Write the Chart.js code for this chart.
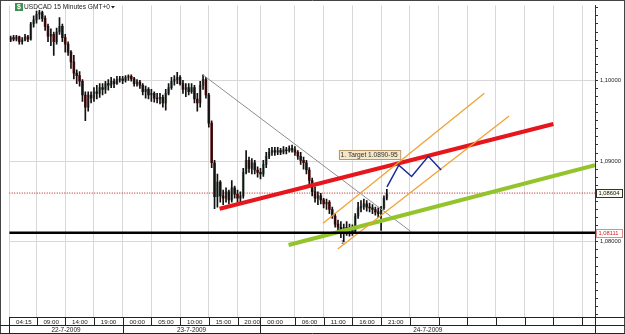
<!DOCTYPE html>
<html>
<head>
<meta charset="utf-8">
<script src="https://cdn.jsdelivr.net/npm/chart.js@4"></script>
<style>
  html, body { margin: 0; padding: 0; background: #fff; }
  #wrap { width: 625px; height: 334px; }
</style>
</head>
<body>
<div id="wrap"><canvas id="graficoUSDCAD" width="625" height="334"></canvas></div>
<script>
// USDCAD 15 Minutes GMT+0 - velas de 30 min
const START_HOUR = 4.5;   // 22-7-2009 04:30
const STEP_HOURS = 0.5;

const opens = [
  1.1050, 1.1053, 1.1051, 1.1054, 1.1048, 1.1050, 1.1054, 1.1051, 1.1070, 1.1075,
  1.1082, 1.1084, 1.1077, 1.1067, 1.1055, 1.1057, 1.1048, 1.1060, 1.1067, 1.1053,
  1.1045, 1.1035, 1.1023, 1.1009, 1.1006, 1.0999, 1.0982, 1.0967, 1.0982, 1.0978,
  1.0986, 1.0984, 1.0991, 1.0989, 1.0996, 1.0994, 1.0999, 1.0996, 1.1001, 1.1002,
  1.1000, 1.1004, 1.1005, 1.1002, 1.0996, 1.0998, 1.0994, 1.0986, 1.0989, 1.0982,
  1.0984, 1.0978, 1.0977, 1.0979, 1.0972, 1.0984, 1.0991, 1.0999, 1.1001, 1.1004,
  1.0996, 1.0989, 1.0991, 1.0986, 1.0991, 1.0977, 1.0972, 1.0994, 1.1001, 1.0982,
  1.0947, 1.0898, 1.0856, 1.0874, 1.0857, 1.0854, 1.0862, 1.0852, 1.0867, 1.0859,
  1.0854, 1.0857, 1.0886, 1.0901, 1.0891, 1.0898, 1.0889, 1.0886, 1.0884, 1.0896,
  1.0906, 1.0911, 1.0913, 1.0911, 1.0913, 1.0911, 1.0914, 1.0913, 1.0916, 1.0914,
  1.0911, 1.0906, 1.0901, 1.0898, 1.0889, 1.0876, 1.0862, 1.0854, 1.0857, 1.0852,
  1.0847, 1.0849, 1.0840, 1.0832, 1.0822, 1.0818, 1.0810, 1.0818, 1.0813, 1.0818,
  1.0813, 1.0832, 1.0842, 1.0844, 1.0847, 1.0843, 1.0842, 1.0840, 1.0837, 1.0835,
  1.0842, 1.0854
];
const highs = [
  1.1055, 1.1056, 1.1056, 1.1055, 1.1053, 1.1057, 1.1056, 1.1072, 1.1080, 1.1086,
  1.1087, 1.1086, 1.1080, 1.1070, 1.1064, 1.1060, 1.1065, 1.1078, 1.1070, 1.1057,
  1.1048, 1.1037, 1.1031, 1.1013, 1.1011, 1.1001, 1.0986, 1.0986, 1.0986, 1.0991,
  1.0994, 1.0996, 1.0996, 1.0999, 1.1001, 1.1004, 1.1002, 1.1005, 1.1005, 1.1005,
  1.1006, 1.1007, 1.1007, 1.1004, 1.1001, 1.1000, 1.0996, 1.0993, 1.0991, 1.0989,
  1.0986, 1.0984, 1.0984, 1.0982, 1.0989, 1.0996, 1.1004, 1.1006, 1.1010, 1.1006,
  1.1000, 1.0996, 1.0996, 1.0996, 1.0994, 1.0984, 1.0999, 1.1007, 1.1004, 1.0984,
  1.0950, 1.0901, 1.0884, 1.0876, 1.0864, 1.0867, 1.0864, 1.0876, 1.0869, 1.0864,
  1.0862, 1.0891, 1.0913, 1.0905, 1.0903, 1.0901, 1.0893, 1.0891, 1.0901, 1.0911,
  1.0916, 1.0917, 1.0917, 1.0917, 1.0916, 1.0918, 1.0917, 1.0919, 1.0920, 1.0918,
  1.0913, 1.0911, 1.0905, 1.0901, 1.0892, 1.0879, 1.0868, 1.0862, 1.0860, 1.0854,
  1.0853, 1.0851, 1.0843, 1.0835, 1.0827, 1.0825, 1.0822, 1.0825, 1.0822, 1.0821,
  1.0835, 1.0849, 1.0851, 1.0853, 1.0851, 1.0848, 1.0846, 1.0843, 1.0842, 1.0844,
  1.0857, 1.0865
];
const lows = [
  1.1048, 1.1049, 1.1049, 1.1045, 1.1045, 1.1049, 1.1048, 1.1050, 1.1066, 1.1071,
  1.1076, 1.1073, 1.1062, 1.1048, 1.1043, 1.1031, 1.1045, 1.1057, 1.1048, 1.1035,
  1.1031, 1.1015, 1.1002, 1.0996, 1.0993, 1.0974, 1.0950, 1.0962, 1.0972, 1.0974,
  1.0977, 1.0979, 1.0982, 1.0984, 1.0988, 1.0991, 1.0991, 1.0995, 1.0998, 1.0996,
  1.0998, 1.1000, 1.0999, 1.0993, 1.0993, 1.0990, 1.0982, 1.0978, 1.0977, 1.0974,
  1.0973, 1.0972, 1.0971, 1.0967, 1.0963, 1.0982, 1.0989, 1.0994, 1.0996, 1.0994,
  1.0984, 1.0980, 1.0982, 1.0984, 1.0972, 1.0962, 1.0967, 1.0989, 1.0978, 1.0942,
  1.0892, 1.0841, 1.0843, 1.0849, 1.0846, 1.0849, 1.0847, 1.0849, 1.0854, 1.0849,
  1.0849, 1.0854, 1.0884, 1.0886, 1.0884, 1.0884, 1.0880, 1.0878, 1.0881, 1.0892,
  1.0903, 1.0907, 1.0907, 1.0908, 1.0908, 1.0909, 1.0909, 1.0911, 1.0911, 1.0907,
  1.0902, 1.0896, 1.0890, 1.0884, 1.0870, 1.0857, 1.0849, 1.0846, 1.0847, 1.0842,
  1.0840, 1.0835, 1.0829, 1.0818, 1.0813, 1.0805, 1.0800, 1.0808, 1.0807, 1.0808,
  1.0810, 1.0829, 1.0837, 1.0840, 1.0838, 1.0837, 1.0835, 1.0833, 1.0830, 1.0814,
  1.0840, 1.0852
];
const closes = [
  1.1053, 1.1051, 1.1054, 1.1048, 1.1050, 1.1054, 1.1051, 1.1070, 1.1075, 1.1082,
  1.1084, 1.1077, 1.1067, 1.1055, 1.1057, 1.1048, 1.1060, 1.1067, 1.1053, 1.1045,
  1.1035, 1.1023, 1.1009, 1.1006, 1.0999, 1.0982, 1.0967, 1.0982, 1.0978, 1.0986,
  1.0984, 1.0991, 1.0989, 1.0996, 1.0994, 1.0999, 1.0996, 1.1001, 1.1002, 1.1000,
  1.1004, 1.1005, 1.1002, 1.0996, 1.0998, 1.0994, 1.0986, 1.0989, 1.0982, 1.0984,
  1.0978, 1.0977, 1.0979, 1.0972, 1.0984, 1.0991, 1.0999, 1.1001, 1.1004, 1.0996,
  1.0989, 1.0991, 1.0986, 1.0991, 1.0977, 1.0972, 1.0994, 1.1001, 1.0982, 1.0947,
  1.0898, 1.0856, 1.0874, 1.0857, 1.0854, 1.0862, 1.0852, 1.0867, 1.0859, 1.0854,
  1.0857, 1.0886, 1.0901, 1.0891, 1.0898, 1.0889, 1.0886, 1.0884, 1.0896, 1.0906,
  1.0911, 1.0913, 1.0911, 1.0913, 1.0911, 1.0914, 1.0913, 1.0916, 1.0914, 1.0911,
  1.0906, 1.0901, 1.0898, 1.0889, 1.0876, 1.0862, 1.0854, 1.0857, 1.0852, 1.0847,
  1.0849, 1.0840, 1.0832, 1.0822, 1.0818, 1.0810, 1.0818, 1.0813, 1.0818, 1.0813,
  1.0832, 1.0842, 1.0844, 1.0847, 1.0843, 1.0842, 1.0840, 1.0837, 1.0835, 1.0842,
  1.0854, 1.08604
];

// eje de tiempo (horas desde 22-7-2009 00:00)
const tickHours  = [4.25, 9, 14, 19, 24, 29, 34, 39, 44, 48, 54, 59, 64, 69, 74, 79, 84, 89, 94, 99, 104];
const tickLabels = ["04:15", "09:00", "14:00", "19:00", "00:00", "05:00", "10:00", "15:00", "20:00",
                    "00:00", "06:00", "11:00", "16:00", "21:00", "", "", "", "", "", "", ""];
const dayStarts  = [4.25, 24, 48];
const dayLabels  = ["22-7-2009", "23-7-2009", "24-7-2009"];

// niveles
const lastPrice    = 1.08604;
const supportPrice = 1.08111;

// lineas dibujadas a mano [hora, precio]
const grayLine    = [[37.97, 1.1007], [74.14, 1.0813]];
const redLine     = [[40.89, 1.0841], [99.0, 1.0946]];
const greenLine   = [[52.89, 1.0796], [106.25, 1.0895]];
const orangeUpper = [[58.89, 1.0823], [86.99, 1.0984]];
const orangeLower = [[61.46, 1.0791], [91.29, 1.0956]];
const blueZigzag  = [[70.03, 1.0868], [72.09, 1.0895], [74.32, 1.0881], [77.23, 1.0906], [79.46, 1.0889]];
const targetNote  = { hour: 61.6, price: 1.0914, text: "1. Target 1.0890-95" };
const smallNote   = { hour: 62.0, price: 1.0799, text: "1" };

const X_MIN = 4.25, X_MAX = 106.25;
const Y_MIN = 1.07068, Y_MAX = 1.10929;
const FONT = "'Liberation Sans', Arial, sans-serif";

const candleHours = closes.map((_, i) => START_HOUR + i * STEP_HOURS);
const toPts = (arr) => arr.map((p) => ({ x: p[0], y: p[1] }));
const isMajor = (v) => Math.abs(v * 100 - Math.round(v * 100)) < 1e-6;

const bodyColors = closes.map((c, i) => (c >= opens[i] ? "#7f9484" : "#7d1a1a"));

function lineSet(pts, color, width, order, dash) {
  return {
    type: "line",
    data: toPts(pts),
    borderColor: color,
    borderWidth: width,
    borderDash: dash || [],
    pointRadius: 0,
    fill: false,
    tension: 0,
    order: order,
  };
}

const decor = {
  id: "decor",
  afterDraw(chart) {
    const { ctx, chartArea: a } = chart;
    const xs = chart.scales.x, ys = chart.scales.y;
    ctx.save();

    // marco
    ctx.strokeStyle = "#444";
    ctx.lineWidth = 1;
    ctx.beginPath();
    ctx.moveTo(0, 0.5); ctx.lineTo(625, 0.5);
    ctx.moveTo(0.5, 0); ctx.lineTo(0.5, 334);
    ctx.moveTo(624.5, 0); ctx.lineTo(624.5, 334);
    ctx.stroke();

    // cajas del eje de tiempo
    const rowTop = a.bottom + 0.5, rowMid = a.bottom + 8.5, rowBot = 333.5;
    ctx.strokeStyle = "#222";
    ctx.beginPath();
    ctx.moveTo(0, rowMid); ctx.lineTo(625, rowMid);
    ctx.moveTo(0, rowBot); ctx.lineTo(625, rowBot);
    ctx.moveTo(a.right, rowTop); ctx.lineTo(625, rowTop);
    tickHours.forEach((h) => {
      const px = Math.round(xs.getPixelForValue(h)) + 0.5;
      ctx.moveTo(px, rowTop); ctx.lineTo(px, rowMid);
    });
    dayStarts.forEach((h) => {
      const px = Math.round(xs.getPixelForValue(h)) + 0.5;
      ctx.moveTo(px, rowMid); ctx.lineTo(px, rowBot);
    });
    ctx.moveTo(a.right + 0.5, rowTop); ctx.lineTo(a.right + 0.5, rowBot);
    ctx.stroke();

    ctx.fillStyle = "#222";
    ctx.font = "6.4px " + FONT;
    ctx.textAlign = "center";
    ctx.textBaseline = "middle";
    dayLabels.forEach((lab, i) => {
      const x0 = xs.getPixelForValue(dayStarts[i]);
      const x1 = i + 1 < dayStarts.length ? xs.getPixelForValue(dayStarts[i + 1]) : a.right;
      ctx.fillText(lab, (x0 + x1) / 2, rowMid + 4.5);
    });

    // titulo
    ctx.fillStyle = "#3d9150";
    ctx.fillRect(15, 3, 8, 8);
    ctx.fillStyle = "#fff";
    ctx.font = "bold 7px " + FONT;
    ctx.fillText("$", 19, 7.5);
    ctx.fillStyle = "#222";
    ctx.font = "6.6px " + FONT;
    ctx.textAlign = "left";
    ctx.fillText("USDCAD 15 Minutes GMT+0", 24, 7.5);
    const tw = ctx.measureText("USDCAD 15 Minutes GMT+0").width;
    ctx.beginPath();
    ctx.moveTo(25 + tw, 6); ctx.lineTo(29 + tw, 6); ctx.lineTo(27 + tw, 8.5);
    ctx.closePath();
    ctx.fill();

    // nota de objetivo
    ctx.font = "6.6px " + FONT;
    const nx = xs.getPixelForValue(targetNote.hour);
    const ny = ys.getPixelForValue(targetNote.price);
    const nw = ctx.measureText(targetNote.text).width + 4;
    ctx.fillStyle = "#f4e6c6";
    ctx.fillRect(nx, ny, nw, 9);
    ctx.strokeStyle = "#b9996a";
    ctx.strokeRect(Math.round(nx) + 0.5, Math.round(ny) + 0.5, nw, 9);
    ctx.fillStyle = "#333";
    ctx.fillText(targetNote.text, nx + 2, ny + 5);

    ctx.font = "5.5px " + FONT;
    ctx.fillStyle = "#555";
    ctx.fillText(smallNote.text, xs.getPixelForValue(smallNote.hour), ys.getPixelForValue(smallNote.price));

    // etiquetas de precio en el eje
    const tag = (v, border, fill, text) => {
      const py = Math.round(ys.getPixelForValue(v));
      ctx.fillStyle = fill;
      ctx.fillRect(a.right + 1, py - 4, 27, 8);
      ctx.strokeStyle = border;
      ctx.strokeRect(a.right + 1.5, py - 3.5, 26, 8);
      ctx.fillStyle = text;
      ctx.font = "5.8px " + FONT;
      ctx.textAlign = "left";
      ctx.fillText(v.toFixed(5).replace(".", ","), a.right + 3.5, py + 0.5);
    };
    tag(lastPrice, "#333", "#fbfbee", "#111");
    tag(supportPrice, "#e08a8a", "#fff", "#d42020");

    ctx.restore();
  },
};

const ctx = document.getElementById("graficoUSDCAD").getContext("2d");
const grafico = new Chart(ctx, {
  type: "bar",
  data: {
    datasets: [
      {
        label: "cuerpos",
        data: candleHours.map((h, i) => ({ x: h, y: [opens[i], closes[i]] })),
        backgroundColor: bodyColors,
        barThickness: 2,
        grouped: false,
        order: 12,
      },
      {
        label: "mechas",
        data: candleHours.map((h, i) => ({ x: h, y: [lows[i], highs[i]] })),
        backgroundColor: "#111",
        barThickness: 1,
        grouped: false,
        order: 11,
      },
      lineSet([[X_MIN, lastPrice], [X_MAX, lastPrice]], "#b31313", 1, 13, [1, 1.5]),
      lineSet([[X_MIN, supportPrice], [X_MAX, supportPrice]], "#000", 2.5, 1),
      lineSet(grayLine, "#8e8e8e", 1, 5),
      lineSet(redLine, "#e5161c", 4, 4),
      lineSet(greenLine, "#93c42c", 4, 4),
      lineSet(orangeUpper, "#f0a236", 1.3, 3),
      lineSet(orangeLower, "#f0a236", 1.3, 3),
      lineSet(blueZigzag, "#1c2b9c", 1.5, 2),
    ],
  },
  options: {
    responsive: false,
    animation: false,
    devicePixelRatio: 1,
    layout: { padding: { left: 1, top: 1, right: 0, bottom: 0 } },
    plugins: { legend: { display: false }, tooltip: { enabled: false }, title: { display: false } },
    scales: {
      x: {
        type: "linear",
        position: "bottom",
        min: X_MIN,
        max: X_MAX,
        offset: false,
        afterFit: (s) => { s.height = 17; },
        afterBuildTicks: (s) => { s.ticks = tickHours.map((v) => ({ value: v })); },
        grid: { color: "#d8d8d8", drawTicks: false, offset: false },
        border: { display: true, color: "#222" },
        ticks: {
          autoSkip: false,
          maxRotation: 0,
          minRotation: 0,
          padding: 1.5,
          labelOffset: 14.6,
          color: "#222",
          font: { size: 6.2, family: FONT },
          callback: (v, i) => tickLabels[i] || "",
        },
      },
      y: {
        type: "linear",
        position: "right",
        min: Y_MIN,
        max: Y_MAX,
        afterFit: (s) => { s.width = 30; },
        afterBuildTicks: (s) => {
          const t = [];
          for (let k = 1071; k <= 1109; k++) t.push({ value: k / 1000 });
          s.ticks = t;
        },
        grid: {
          color: (c) => (c.tick && isMajor(c.tick.value) ? "#d8d8d8" : "rgba(0,0,0,0)"),
          tickColor: "#333",
          tickLength: 3,
        },
        border: { display: true, color: "#333" },
        ticks: {
          autoSkip: false,
          padding: 2,
          color: "#222",
          font: { size: 5.8, family: FONT },
          callback: (v) => (isMajor(v) ? v.toFixed(5).replace(".", ",") : ""),
        },
      },
    },
  },
  plugins: [decor],
});
</script>
</body>
</html>
